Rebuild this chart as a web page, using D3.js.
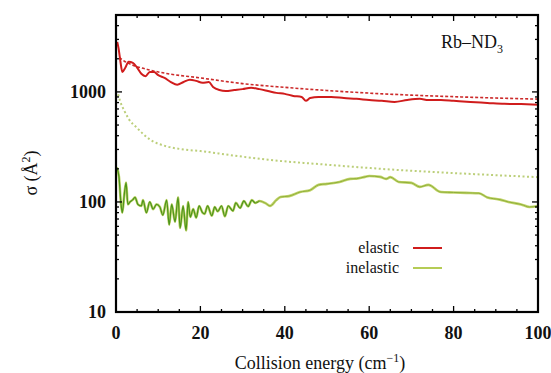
<!DOCTYPE html>
<html>
<head>
<meta charset="utf-8">
<script src="https://cdn.jsdelivr.net/npm/d3@7"></script>
<style>
  body { margin: 0; background: #fff; }
</style>
</head>
<body>
<div id="chart"></div>
<script>
// collision energy (cm^-1) and cross sections (Å^2)
const elasticE = [0.3, 0.6, 1.0, 1.5, 2.2, 3, 4, 5, 6, 7, 8, 9, 10, 11.5, 13, 14.5, 16, 17.5, 19, 20.5, 22, 23, 24.5, 26, 28, 30, 32, 34, 36, 38, 40, 42, 44, 45, 46, 48, 51, 54, 57, 60, 63, 66, 69, 72, 74, 77, 80, 84, 88, 92, 96, 100]
const elasticSigma = [2850, 2500, 1950, 1520, 1660, 1880, 1840, 1660, 1460, 1390, 1520, 1520, 1420, 1340, 1230, 1160, 1230, 1290, 1260, 1210, 1230, 1110, 1040, 1020, 1040, 1060, 1090, 1060, 1020, 980, 960, 920, 900, 830, 880, 900, 900, 880, 865, 845, 830, 810, 845, 865, 845, 845, 830, 810, 795, 780, 775, 765]

const elasticFitE = [0.8, 2, 4, 8, 12, 20, 30, 40, 50, 60, 70, 80, 90, 100]
const elasticFitSigma = [2050, 1900, 1750, 1580, 1470, 1340, 1190, 1100, 1030, 975, 935, 905, 880, 860]

const inelasticE = [0.2, 0.7, 1.2, 1.5, 2.0, 2.4, 2.8, 3.3, 4.0, 4.5, 5.2, 6.0, 6.4, 7.2, 8.0, 8.8, 9.6, 10.4, 11.1, 12.0, 12.6, 13.2, 14.0, 14.7, 15.2, 15.9, 16.6, 17.1, 17.6, 18.3, 19.0, 19.7, 20.5, 21.0, 21.7, 22.7, 23.4, 24.1, 25.0, 25.8, 26.6, 27.7, 28.4, 29.4, 30.3, 31.3, 32.2, 33.0, 34.0, 35.5, 36.5, 38, 39, 41, 43.6, 46, 48, 50, 53, 55.5, 57, 59, 60, 62.6, 64, 65, 67, 70, 72, 74, 77, 80, 83, 86, 88, 91, 93, 96, 98, 100]
const inelasticSigma = [205, 170, 95, 80, 120, 150, 95, 100, 105, 110, 95, 92, 104, 80, 100, 86, 95, 90, 76, 104, 62, 95, 66, 110, 58, 92, 55, 100, 73, 86, 72, 92, 80, 78, 92, 75, 90, 82, 92, 74, 92, 83, 98, 88, 102, 91, 104, 98, 102, 97, 92, 104, 111, 113, 123, 128, 143, 146, 152, 162, 163, 169, 172, 169, 162, 168, 152, 149, 137, 143, 123, 122, 121, 120, 110, 105, 100, 95, 90, 92]

const inelasticFitE = [0.5, 1, 2, 3, 5, 8, 12, 16, 20, 27, 36, 50, 67, 80, 100]
const inelasticFitSigma = [950, 820, 670, 570, 470, 370, 320, 300, 290, 267, 242, 218, 195, 183, 168]

const xTicks = [0, 20, 40, 60, 80, 100]
const yTicks = [10, 100, 1000]
const legendLabels = ['elastic', 'inelastic']

const W = 551, H = 373
const m = { left: 116, right: 13, top: 15, bottom: 61 }
const serif = "'Liberation Serif', 'DejaVu Serif', 'Times New Roman', Times, 'Noto Serif', serif"

const svg = d3.select('#chart').append('svg')
    .attr('width', W)
    .attr('height', H)
    .style('font-family', serif)

const x = d3.scaleLinear().domain([0, 100]).range([m.left, W - m.right])
const y = d3.scaleLog().domain([10, 5000]).range([H - m.bottom, m.top])

const zip = (xs, ys) => xs.map((v, i) => [v, ys[i]])
const smooth = d3.line().x(d => x(d[0])).y(d => y(d[1])).curve(d3.curveMonotoneX)

const plot = svg.append('g')

// fit curves (dashed)
plot.append('path')
    .attr('d', smooth(zip(inelasticFitE, inelasticFitSigma)))
    .attr('fill', 'none').attr('stroke', '#bccf7a').attr('stroke-width', 2)
    .attr('stroke-dasharray', '2,2.5')

plot.append('path')
    .attr('d', smooth(zip(elasticFitE, elasticFitSigma)))
    .attr('fill', 'none').attr('stroke', '#cc2a2a').attr('stroke-width', 1.6)
    .attr('stroke-dasharray', '3,2')

// inelastic: light yellow-green under a darker green
const inel = zip(inelasticE, inelasticSigma)
plot.append('path')
    .attr('d', smooth(inel))
    .attr('fill', 'none').attr('stroke', '#c2d46a').attr('stroke-width', 2.6)
plot.append('path')
    .attr('d', smooth(inel.filter(d => d[0] <= 34)))
    .attr('fill', 'none').attr('stroke', '#4f961c').attr('stroke-width', 1.3)
plot.append('path')
    .attr('d', smooth(inel.filter(d => d[0] >= 33)))
    .attr('fill', 'none').attr('stroke', '#8fb03a').attr('stroke-width', 1)

// elastic
plot.append('path')
    .attr('d', smooth(zip(elasticE, elasticSigma)))
    .attr('fill', 'none').attr('stroke', '#d01c1c').attr('stroke-width', 2)

// ticks, pointing inward on all four sides
const axes = svg.append('g').attr('stroke', '#000')
const x0 = m.left, x1 = W - m.right, y0 = H - m.bottom, y1 = m.top

d3.range(0, 101, 5).forEach(v => {
    const len = v % 20 === 0 ? 6 : 3
    axes.append('line').attr('x1', x(v)).attr('x2', x(v)).attr('y1', y0).attr('y2', y0 - len).attr('stroke-width', 1.3)
    axes.append('line').attr('x1', x(v)).attr('x2', x(v)).attr('y1', y1).attr('y2', y1 + len).attr('stroke-width', 1.3)
})

const yMinor = []
;[10, 100, 1000].forEach(dec => d3.range(1, 10).forEach(k => { if (dec * k <= 5000) yMinor.push(dec * k) }))
yMinor.forEach(v => {
    const len = yTicks.includes(v) ? 6 : 3
    axes.append('line').attr('x1', x0).attr('x2', x0 + len).attr('y1', y(v)).attr('y2', y(v)).attr('stroke-width', 1.3)
    axes.append('line').attr('x1', x1).attr('x2', x1 - len).attr('y1', y(v)).attr('y2', y(v)).attr('stroke-width', 1.3)
})

svg.append('rect')
    .attr('x', x0).attr('y', y1)
    .attr('width', x1 - x0).attr('height', y0 - y1)
    .attr('fill', 'none').attr('stroke', '#000').attr('stroke-width', 2.2)

// tick labels
svg.selectAll('.xt').data(xTicks).enter().append('text')
    .attr('x', d => x(d)).attr('y', y0 + 27)
    .attr('text-anchor', 'middle')
    .attr('font-size', 18).attr('font-weight', 'bold').attr('fill', '#111')
    .text(d => d)

svg.selectAll('.yt').data(yTicks).enter().append('text')
    .attr('x', x0 - 10).attr('y', d => y(d) + 6)
    .attr('text-anchor', 'end')
    .attr('font-size', 18).attr('font-weight', 'bold').attr('fill', '#111')
    .text(d => d)

// axis titles
const xl = svg.append('text')
    .attr('x', 320).attr('y', 369)
    .attr('text-anchor', 'middle')
    .attr('font-size', 18).attr('fill', '#111')
xl.append('tspan').text('Collision energy (cm')
xl.append('tspan').attr('dy', -7).attr('font-size', 12).text('−1')
xl.append('tspan').attr('dy', 7).text(')')

const yl = svg.append('text')
    .attr('transform', 'translate(37,173) rotate(-90)')
    .attr('text-anchor', 'middle')
    .attr('font-size', 18).attr('fill', '#111')
yl.append('tspan').text('σ (Å')
yl.append('tspan').attr('dy', -7).attr('font-size', 12).text('2')
yl.append('tspan').attr('dy', 7).text(')')

// title
const t = svg.append('text')
    .attr('x', 441).attr('y', 48)
    .attr('font-size', 18).attr('fill', '#111')
t.append('tspan').text('Rb–ND')
t.append('tspan').attr('dy', 5).attr('font-size', 12).text('3')

// legend
const legendColors = ['#d01c1c', '#b5cc55']
legendLabels.forEach((lab, i) => {
    const ly = 248 + i * 20
    svg.append('text')
        .attr('x', 399).attr('y', ly + 5)
        .attr('text-anchor', 'end')
        .attr('font-size', 16).attr('fill', '#111')
        .text(lab)
    svg.append('line')
        .attr('x1', 413).attr('x2', 442).attr('y1', ly).attr('y2', ly)
        .attr('stroke', legendColors[i]).attr('stroke-width', 2)
})
</script>
</body>
</html>
